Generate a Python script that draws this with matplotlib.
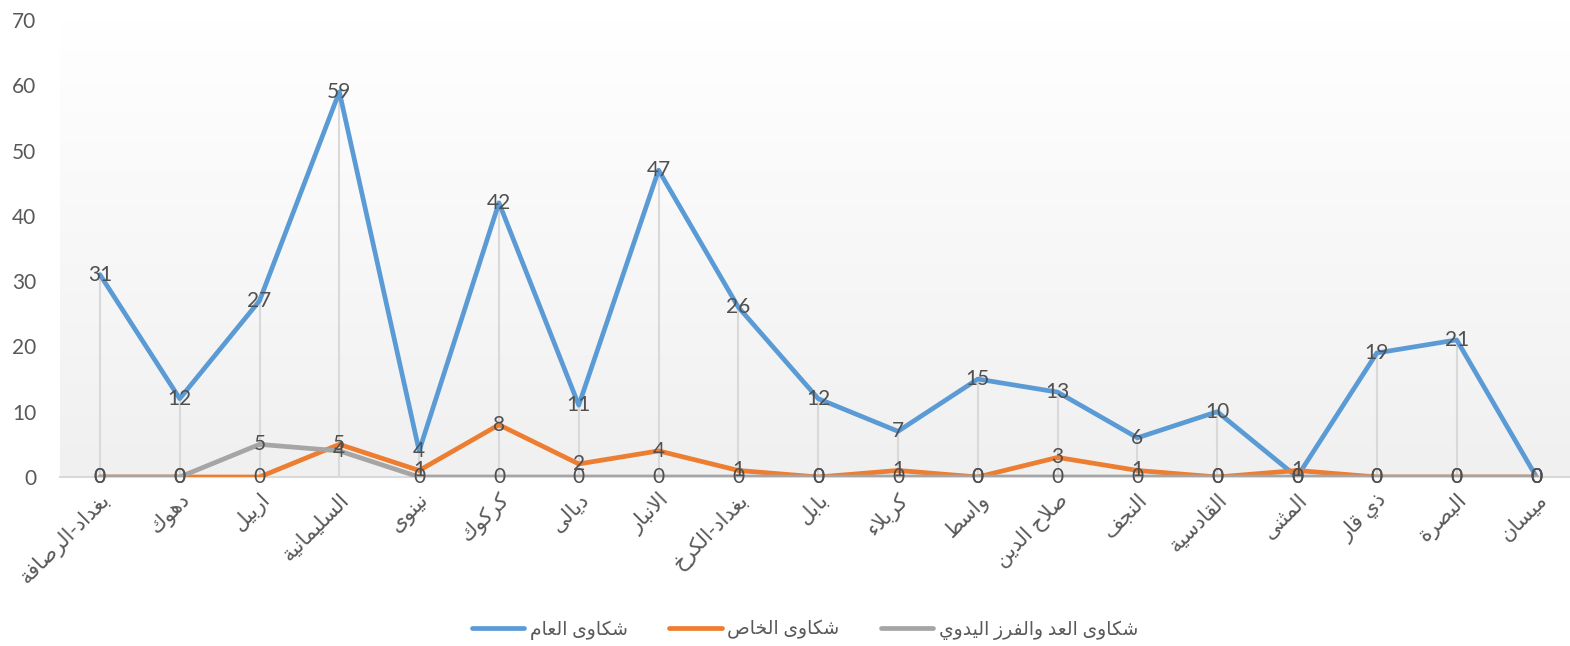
import matplotlib
matplotlib.use('Agg')
import matplotlib.pyplot as plt
import numpy as np
from matplotlib.colors import LinearSegmentedColormap

categories = ['بغداد-الرصافة', 'دهوك', 'اربيل', 'السليمانية', 'نينوى', 'كركوك', 'ديالى',
              'الانبار', 'بغداد-الكرخ', 'بابل', 'كربلاء', 'واسط', 'صلاح الدين', 'النجف',
              'القادسية', 'المثنى', 'ذي قار', 'البصرة', 'ميسان']
general = [31, 12, 27, 59, 4, 42, 11, 47, 26, 12, 7, 15, 13, 6, 10, 0, 19, 21, 0]
private = [0, 0, 0, 5, 1, 8, 2, 4, 1, 0, 1, 0, 3, 1, 0, 1, 0, 0, 0]
manual = [0, 0, 5, 4, 0, 0, 0, 0, 0, 0, 0, 0, 0, 0, 0, 0, 0, 0, 0]
series_names = ['شكاوى العام', 'شكاوى الخاص', 'شكاوى العد والفرز اليدوي']
colors = ['#5B9BD5', '#ED7D31', '#A5A5A5']

# matplotlib has no arabic shaping, so map letters to presentation forms and reverse
TWO = 'آأؤإاةدذرزوى'
BASE = {'ء': 0xFE80, 'آ': 0xFE81, 'أ': 0xFE83, 'ؤ': 0xFE85, 'إ': 0xFE87, 'ئ': 0xFE89,
        'ا': 0xFE8D, 'ب': 0xFE8F, 'ة': 0xFE93, 'ت': 0xFE95, 'ث': 0xFE99, 'ج': 0xFE9D,
        'ح': 0xFEA1, 'خ': 0xFEA5, 'د': 0xFEA9, 'ذ': 0xFEAB, 'ر': 0xFEAD, 'ز': 0xFEAF,
        'س': 0xFEB1, 'ش': 0xFEB5, 'ص': 0xFEB9, 'ض': 0xFEBD, 'ط': 0xFEC1, 'ظ': 0xFEC5,
        'ع': 0xFEC9, 'غ': 0xFECD, 'ف': 0xFED1, 'ق': 0xFED5, 'ك': 0xFED9, 'ل': 0xFEDD,
        'م': 0xFEE1, 'ن': 0xFEE5, 'ه': 0xFEE9, 'و': 0xFEED, 'ى': 0xFEEF, 'ي': 0xFEF1}
LAMALEF = {'ا': 0xFEFB, 'أ': 0xFEF7, 'إ': 0xFEF9, 'آ': 0xFEF5}


def dual(c):
    return c in BASE and c not in TWO and c != 'ء'


def shape(s):
    out = []
    i = 0
    n = len(s)
    while i < n:
        c = s[i]
        if c not in BASE:
            out.append(c)
            i += 1
            continue
        joins_prev = i > 0 and dual(s[i - 1])
        if c == 'ل' and i + 1 < n and s[i + 1] in LAMALEF:
            out.append(chr(LAMALEF[s[i + 1]] + (1 if joins_prev else 0)))
            i += 2
            continue
        nxt = s[i + 1] if i + 1 < n else ''
        joins_next = dual(c) and nxt in BASE and nxt != 'ء'
        b = BASE[c]
        if c == 'ء':
            f = b
        elif joins_prev and joins_next:
            f = b + 3
        elif joins_next:
            f = b + 2
        elif joins_prev:
            f = b + 1
        else:
            f = b
        out.append(chr(f))
        i += 1
    return ''.join(reversed(out))


plt.rcParams['font.family'] = ['Lato', 'DejaVu Sans']

fig = plt.figure(figsize=(15.7, 6.46), dpi=100)
ax = fig.add_axes([60 / 1570, 169 / 646, 1510 / 1570, 457 / 646])

x = np.arange(len(categories))
ax.set_xlim(-0.5, 18.42)
ax.set_ylim(0, 70)

# gradient plot area
cmap = LinearSegmentedColormap.from_list('bg', ['#FFFFFF', '#F0F0F0'])
ax.imshow(np.linspace(0, 1, 256)[:, None], cmap=cmap, aspect='auto',
          extent=[0, 1, 0, 1], transform=ax.transAxes, zorder=0)

all_series = [general, private, manual]
tops = np.max(np.array(all_series), axis=0)
ax.vlines(x, 0, tops, color='#D9D9D9', lw=1.5, zorder=1)

lines = []
for i, (vals, c) in enumerate(zip(all_series, colors)):
    ln, = ax.plot(x, vals, color=c, lw=3.4, zorder=2 + i, solid_capstyle='round',
                  solid_joinstyle='round')
    lines.append(ln)

for vals in all_series:
    for xi, v in zip(x, vals):
        ax.text(xi, v, str(v), ha='center', va='center', fontsize=15,
                color='#505050', zorder=10)

for s in ['top', 'right', 'left']:
    ax.spines[s].set_visible(False)
ax.spines['bottom'].set_color('#D9D9D9')
ax.spines['bottom'].set_linewidth(1.5)

ax.set_yticks(range(0, 71, 10))
ax.tick_params(axis='y', length=0, pad=17, labelsize=15, labelcolor='#595959')
ax.set_xticks(x)
ax.set_xticklabels([shape(c) for c in categories], rotation=45, ha='right',
                   rotation_mode='anchor', fontsize=15, color='#595959')
ax.tick_params(axis='x', length=0, pad=9)

fig.legend(lines, [shape(s) for s in series_names], loc='center',
           bbox_to_anchor=(805 / 1570, 16 / 646), ncol=3, frameon=False,
           fontsize=13.5, labelcolor='#595959', handlelength=2.8,
           handletextpad=0.3, columnspacing=2.2)

fig.savefig('out.png', dpi=100)
